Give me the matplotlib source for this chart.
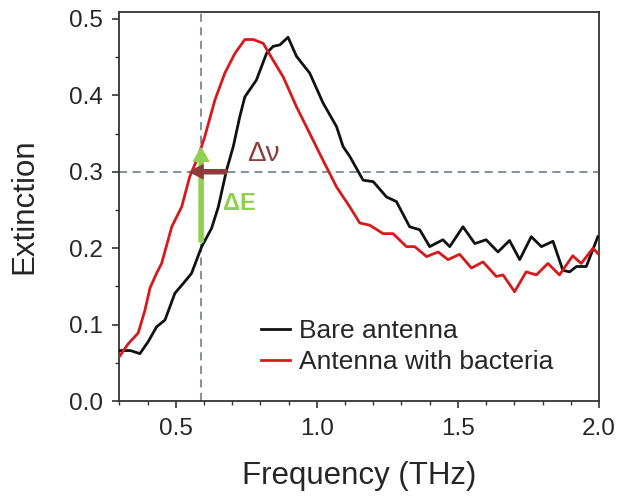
import numpy as np
import matplotlib
matplotlib.use("Agg")
import matplotlib.pyplot as plt
from matplotlib.ticker import MultipleLocator

plt.rcParams['font.family'] = ['Liberation Sans', 'DejaVu Sans']

# ---------------------------------------------------------------- data
freq_bare = [0.30, 0.34, 0.373, 0.403, 0.432, 0.462, 0.497, 0.527, 0.556, 0.592,
             0.627, 0.651, 0.68, 0.704, 0.727, 0.745, 0.786, 0.822, 0.845, 0.869,
             0.898, 0.928, 0.975, 1.022, 1.07, 1.093, 1.117, 1.164, 1.20, 1.247,
             1.282, 1.329, 1.365, 1.40, 1.447, 1.471, 1.518, 1.56, 1.60, 1.642,
             1.683, 1.719, 1.76, 1.796, 1.837, 1.872, 1.896, 1.92, 1.955, 1.996]
ext_bare = [0.066, 0.066, 0.062, 0.078, 0.097, 0.106, 0.141, 0.154, 0.167, 0.202,
            0.226, 0.254, 0.302, 0.333, 0.372, 0.398, 0.420, 0.455, 0.464, 0.466,
            0.476, 0.451, 0.429, 0.390, 0.359, 0.333, 0.320, 0.289, 0.287, 0.267,
            0.261, 0.228, 0.224, 0.202, 0.211, 0.202, 0.228, 0.206, 0.211, 0.195,
            0.210, 0.185, 0.215, 0.202, 0.209, 0.171, 0.169, 0.176, 0.176, 0.215]

freq_bact = [0.30, 0.332, 0.367, 0.391, 0.409, 0.432, 0.45, 0.486, 0.521, 0.55,
             0.58, 0.603, 0.639, 0.674, 0.71, 0.745, 0.775, 0.81, 0.845, 0.881,
             0.928, 0.975, 1.022, 1.07, 1.117, 1.152, 1.188, 1.235, 1.27, 1.318,
             1.347, 1.389, 1.43, 1.465, 1.506, 1.548, 1.589, 1.636, 1.66, 1.701,
             1.742, 1.778, 1.819, 1.86, 1.907, 1.937, 1.979, 1.996]
ext_bact = [0.058, 0.075, 0.089, 0.119, 0.148, 0.167, 0.180, 0.228, 0.254, 0.294,
            0.320, 0.346, 0.394, 0.429, 0.455, 0.473, 0.473, 0.468, 0.446, 0.424,
            0.385, 0.350, 0.315, 0.280, 0.254, 0.233, 0.230, 0.219, 0.219, 0.202,
            0.202, 0.189, 0.195, 0.185, 0.192, 0.174, 0.182, 0.163, 0.165, 0.143,
            0.169, 0.165, 0.180, 0.165, 0.190, 0.180, 0.200, 0.193]

ref_freq = 0.59       # vertical dashed guide
ref_ext = 0.30        # horizontal dashed guide
dE_from, dE_to = 0.208, 0.331
dnu_from, dnu_to = 0.68, 0.55

# ---------------------------------------------------------------- plot
txt = '#262626'
fig = plt.figure(figsize=(6.2, 4.96), dpi=100)
ax = fig.add_axes([0.1924, 0.1915, 0.7737, 0.7843])

ax.axvline(ref_freq, color='#7c869a', lw=1.3, ls=(0, (4.5, 3)), zorder=1)
ax.axhline(ref_ext, color='#7c869a', lw=1.3, ls=(0, (4.5, 3)), zorder=1)

ax.plot(freq_bare, ext_bare, color='#111111', lw=2.0, label='Bare antenna', zorder=3)
ax.plot(freq_bact, ext_bact, color='#d7191c', lw=2.0, label='Antenna with bacteria', zorder=3)

ax.annotate('', xy=(ref_freq, dE_to), xytext=(ref_freq, dE_from),
            arrowprops=dict(arrowstyle='simple,head_width=1.1,head_length=0.95,tail_width=0.3',
                            color='#8fd14f', mutation_scale=10, shrinkA=0, shrinkB=0), zorder=4)
ax.annotate('', xy=(dnu_to, ref_ext), xytext=(dnu_from, ref_ext),
            arrowprops=dict(arrowstyle='simple,head_width=1.0,head_length=0.95,tail_width=0.3',
                            color='#8e3b3b', mutation_scale=10, shrinkA=0, shrinkB=0), zorder=4)
ax.text(0.811, 0.323, '\u0394\u03bd', color='#8e3b3b', fontsize=20, ha='center', va='center')
ax.text(0.724, 0.259, '\u0394E', color='#8fd14f', fontsize=17, fontweight='bold',
        ha='center', va='center')

ax.set_xlim(0.3, 2.0)
ax.set_ylim(0.0, 0.509)
ax.xaxis.set_minor_locator(MultipleLocator(0.1))
ax.yaxis.set_minor_locator(MultipleLocator(0.05))
ax.set_xticks([0.5, 1.0, 1.5, 2.0])
ax.set_yticks([0.0, 0.1, 0.2, 0.3, 0.4, 0.5])
ax.tick_params(which='major', direction='out', length=5, width=1.2, pad=7,
               labelsize=17.5, colors='#333333', labelcolor=txt)
ax.tick_params(which='minor', direction='out', length=3, width=1.0, colors='#333333')
for s in ax.spines.values():
    s.set_color('#333333')
    s.set_linewidth(1.3)

ax.set_xlabel('Frequency (THz)', fontsize=22.5, color=txt)
ax.set_ylabel('Extinction', fontsize=22.5, color=txt)
ax.xaxis.label.set_va('center')
ax.yaxis.label.set_va('center')
ax.xaxis.set_label_coords(0.5, -0.193)
ax.yaxis.set_label_coords(-0.197, 0.5)

leg = ax.legend(loc='lower left', bbox_to_anchor=(0.295, 0.07), frameon=False,
                fontsize=19, handlelength=1.1, handletextpad=0.35, labelspacing=0.25,
                borderaxespad=0, borderpad=0)
for t in leg.get_texts():
    t.set_color(txt)

fig.savefig('out.png', dpi=100)
